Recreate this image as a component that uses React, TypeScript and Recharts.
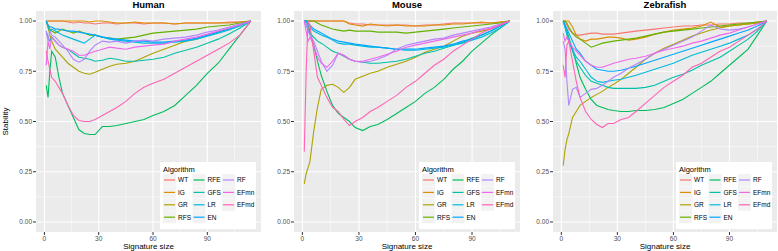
import React from 'react';
import { LineChart, Line, XAxis, YAxis, CartesianGrid } from 'recharts';

const algorithms = ['WT', 'IG', 'GR', 'RFS', 'RFE', 'GFS', 'LR', 'EN', 'RF', 'EFmn', 'EFmd'];
const colors = ['#F8766D', '#DB8E00', '#AEA200', '#64B200', '#00BD5C', '#00C1A7', '#00BADE', '#00A6FF', '#B385FF', '#EF67EB', '#FF63B6'];
const titles = ['Human', 'Mouse', 'Zebrafish'];
const xTicks = [0, 30, 60, 90];
const xMinor = [15, 45, 75, 105];
const yTicks = [0, 0.25, 0.5, 0.75, 1];
const yMinor = [0.125, 0.375, 0.625, 0.875];

// Human
const humanX = [1, 2, 3, 4, 6, 8, 10, 13, 16, 19, 22, 25, 28, 32, 36, 40, 45, 50, 55, 60, 66, 72, 78, 84, 90, 96, 102, 108, 114];
const humanWT = [1, 1, 1, 1, 1, 1, 1, 0.995, 0.99, 0.995, 0.99, 0.99, 0.985, 0.99, 0.99, 0.985, 0.99, 0.99, 0.985, 0.99, 0.99, 0.985, 0.99, 0.99, 0.99, 0.99, 0.995, 0.995, 1];
const humanIG = [1, 1, 1, 1, 1, 1, 1, 1, 1, 1, 1, 0.995, 1, 1, 0.995, 0.99, 0.99, 0.995, 0.99, 0.99, 0.99, 0.985, 0.99, 0.99, 0.99, 0.99, 0.99, 0.995, 1];
const humanGR = [1, 0.97, 0.93, 0.9, 0.86, 0.84, 0.82, 0.79, 0.77, 0.75, 0.74, 0.735, 0.745, 0.76, 0.775, 0.785, 0.79, 0.8, 0.82, 0.84, 0.86, 0.88, 0.9, 0.91, 0.93, 0.945, 0.96, 0.98, 1];
const humanRFS = [1, 0.98, 0.96, 0.95, 0.94, 0.95, 0.96, 0.95, 0.94, 0.95, 0.94, 0.93, 0.93, 0.92, 0.915, 0.91, 0.915, 0.92, 0.93, 0.94, 0.945, 0.95, 0.955, 0.96, 0.97, 0.975, 0.98, 0.99, 1];
const humanRFE = [0.68, 0.62, 0.75, 0.85, 0.82, 0.72, 0.64, 0.58, 0.52, 0.46, 0.44, 0.435, 0.435, 0.475, 0.475, 0.48, 0.49, 0.5, 0.51, 0.53, 0.55, 0.58, 0.63, 0.68, 0.74, 0.79, 0.86, 0.93, 1];
const humanGFS = [0.95, 0.92, 0.9, 0.92, 0.9, 0.88, 0.87, 0.86, 0.84, 0.82, 0.815, 0.81, 0.8, 0.805, 0.815, 0.81, 0.8, 0.8, 0.805, 0.81, 0.82, 0.84, 0.855, 0.87, 0.89, 0.91, 0.935, 0.965, 1];
const humanLR = [1, 0.97, 0.95, 0.96, 0.95, 0.94, 0.93, 0.92, 0.91, 0.9, 0.89, 0.91, 0.93, 0.92, 0.91, 0.905, 0.9, 0.895, 0.89, 0.89, 0.89, 0.895, 0.9, 0.91, 0.925, 0.94, 0.955, 0.975, 1];
const humanEN = [1, 0.98, 0.97, 0.97, 0.96, 0.96, 0.955, 0.95, 0.95, 0.945, 0.94, 0.935, 0.93, 0.92, 0.915, 0.91, 0.905, 0.9, 0.9, 0.895, 0.895, 0.9, 0.905, 0.915, 0.93, 0.945, 0.96, 0.98, 1];
const humanRF = [0.95, 0.9, 0.95, 0.93, 0.92, 0.9, 0.88, 0.85, 0.81, 0.795, 0.81, 0.85, 0.88, 0.9, 0.895, 0.9, 0.89, 0.9, 0.905, 0.9, 0.91, 0.915, 0.92, 0.93, 0.945, 0.955, 0.97, 0.985, 1];
const humanEFmn = [0.78, 0.9, 0.86, 0.92, 0.9, 0.88, 0.87, 0.86, 0.85, 0.83, 0.83, 0.84, 0.85, 0.86, 0.87, 0.865, 0.86, 0.87, 0.875, 0.88, 0.885, 0.9, 0.91, 0.92, 0.935, 0.95, 0.965, 0.98, 1];
const humanEFmd = [0.85, 0.8, 0.76, 0.72, 0.7, 0.67, 0.64, 0.58, 0.53, 0.505, 0.5, 0.5, 0.51, 0.53, 0.55, 0.57, 0.6, 0.64, 0.67, 0.69, 0.71, 0.74, 0.77, 0.8, 0.83, 0.86, 0.89, 0.93, 1];

// Mouse
const mouseX = [1, 2, 3, 4, 6, 8, 10, 13, 16, 19, 22, 25, 28, 32, 36, 40, 45, 50, 55, 60, 65, 70, 75, 80, 85, 90, 95, 100, 105, 110];
const mouseWT = [1, 1, 1, 1, 1, 1, 1, 1, 1, 1, 1, 0.99, 0.985, 0.985, 0.98, 0.98, 0.98, 0.98, 0.98, 0.975, 0.98, 0.98, 0.985, 0.99, 0.99, 0.99, 0.99, 0.99, 0.995, 1];
const mouseIG = [1, 1, 1, 1, 1, 1, 1, 1, 1, 1, 1, 0.985, 0.98, 0.975, 0.985, 0.98, 0.975, 0.98, 0.975, 0.975, 0.975, 0.98, 0.98, 0.985, 0.985, 0.99, 0.995, 0.99, 0.995, 1];
const mouseGR = [0.19, 0.24, 0.27, 0.3, 0.45, 0.57, 0.66, 0.68, 0.685, 0.67, 0.645, 0.67, 0.71, 0.725, 0.74, 0.75, 0.77, 0.785, 0.8, 0.82, 0.845, 0.86, 0.875, 0.9, 0.925, 0.94, 0.95, 0.96, 0.98, 1];
const mouseRFS = [1, 1, 1, 1, 1, 0.99, 0.98, 0.97, 0.96, 0.955, 0.95, 0.955, 0.95, 0.95, 0.95, 0.945, 0.945, 0.945, 0.94, 0.945, 0.95, 0.955, 0.96, 0.965, 0.97, 0.975, 0.98, 0.985, 0.99, 1];
const mouseRFE = [1, 1, 0.98, 0.95, 0.88, 0.8, 0.73, 0.65, 0.58, 0.54, 0.52, 0.5, 0.47, 0.455, 0.475, 0.485, 0.51, 0.54, 0.57, 0.6, 0.64, 0.67, 0.71, 0.76, 0.8, 0.85, 0.89, 0.93, 0.965, 1];
const mouseGFS = [1, 0.98, 0.96, 0.94, 0.92, 0.9, 0.89, 0.87, 0.85, 0.84, 0.825, 0.81, 0.8, 0.795, 0.79, 0.79, 0.795, 0.8, 0.81, 0.825, 0.84, 0.85, 0.865, 0.88, 0.895, 0.915, 0.93, 0.95, 0.975, 1];
const mouseLR = [1, 1, 0.98, 0.97, 0.95, 0.94, 0.93, 0.92, 0.905, 0.89, 0.885, 0.885, 0.88, 0.875, 0.87, 0.87, 0.865, 0.86, 0.855, 0.855, 0.86, 0.865, 0.87, 0.88, 0.89, 0.905, 0.92, 0.94, 0.965, 1];
const mouseEN = [1, 1, 0.99, 0.98, 0.96, 0.95, 0.94, 0.925, 0.91, 0.9, 0.895, 0.89, 0.885, 0.88, 0.875, 0.87, 0.865, 0.86, 0.86, 0.86, 0.865, 0.87, 0.875, 0.885, 0.9, 0.91, 0.93, 0.95, 0.975, 1];
const mouseRF = [1, 0.98, 0.95, 0.93, 0.9, 0.85, 0.8, 0.75, 0.78, 0.84, 0.83, 0.81, 0.8, 0.795, 0.8, 0.81, 0.83, 0.86, 0.88, 0.89, 0.9, 0.91, 0.915, 0.93, 0.94, 0.95, 0.96, 0.97, 0.985, 1];
const mouseEFmn = [1, 0.95, 0.9, 0.92, 0.88, 0.82, 0.79, 0.77, 0.8, 0.84, 0.83, 0.81, 0.8, 0.8, 0.81, 0.82, 0.835, 0.85, 0.87, 0.88, 0.89, 0.9, 0.91, 0.92, 0.93, 0.94, 0.955, 0.965, 0.98, 1];
const mouseEFmd = [0.35, 0.75, 1, 0.98, 0.85, 0.72, 0.68, 0.62, 0.57, 0.55, 0.51, 0.48, 0.5, 0.52, 0.55, 0.57, 0.6, 0.63, 0.67, 0.7, 0.74, 0.78, 0.81, 0.85, 0.88, 0.91, 0.94, 0.96, 0.98, 1];

// Zebrafish
const zebraX = [1, 2, 3, 4, 6, 8, 10, 13, 16, 19, 22, 25, 28, 32, 36, 40, 45, 50, 55, 60, 65, 70, 75, 80, 85, 90, 95, 100, 105, 110];
const zebraWT = [1, 1, 0.98, 0.96, 0.94, 0.93, 0.93, 0.935, 0.94, 0.94, 0.935, 0.935, 0.935, 0.94, 0.945, 0.95, 0.955, 0.96, 0.965, 0.97, 0.975, 0.975, 0.98, 0.98, 0.985, 0.985, 0.99, 0.99, 0.995, 1];
const zebraIG = [1, 1, 1, 1, 0.97, 0.93, 0.91, 0.9, 0.91, 0.91, 0.915, 0.92, 0.92, 0.915, 0.905, 0.91, 0.92, 0.935, 0.945, 0.955, 0.96, 0.965, 0.975, 0.995, 0.97, 0.975, 0.98, 0.985, 0.99, 1];
const zebraGR = [0.28, 0.36, 0.41, 0.44, 0.52, 0.55, 0.58, 0.6, 0.62, 0.635, 0.65, 0.67, 0.685, 0.71, 0.74, 0.77, 0.81, 0.84, 0.865, 0.885, 0.905, 0.925, 0.94, 0.955, 0.965, 0.975, 0.98, 0.985, 0.99, 1];
const zebraRFS = [1, 1, 0.99, 0.97, 0.94, 0.92, 0.91, 0.89, 0.87, 0.88, 0.89, 0.895, 0.9, 0.905, 0.91, 0.915, 0.925, 0.935, 0.945, 0.95, 0.955, 0.96, 0.965, 0.97, 0.975, 0.98, 0.985, 0.99, 0.995, 1];
const zebraRFE = [1, 0.98, 0.95, 0.92, 0.86, 0.79, 0.72, 0.66, 0.61, 0.58, 0.57, 0.56, 0.555, 0.55, 0.55, 0.555, 0.555, 0.56, 0.57, 0.59, 0.61, 0.64, 0.67, 0.7, 0.74, 0.78, 0.82, 0.86, 0.93, 1];
const zebraGFS = [1, 0.97, 0.93, 0.9, 0.85, 0.8, 0.77, 0.73, 0.7, 0.69, 0.68, 0.67, 0.665, 0.665, 0.665, 0.665, 0.67, 0.68, 0.7, 0.72, 0.735, 0.755, 0.78, 0.8, 0.82, 0.85, 0.88, 0.91, 0.95, 1];
const zebraLR = [1, 0.97, 0.94, 0.9, 0.86, 0.82, 0.8, 0.76, 0.72, 0.7, 0.695, 0.7, 0.705, 0.71, 0.72, 0.73, 0.745, 0.76, 0.775, 0.79, 0.81, 0.83, 0.845, 0.86, 0.875, 0.89, 0.91, 0.93, 0.96, 1];
const zebraEN = [1, 0.98, 0.96, 0.94, 0.9, 0.86, 0.84, 0.8, 0.78, 0.76, 0.755, 0.75, 0.75, 0.755, 0.765, 0.775, 0.79, 0.805, 0.82, 0.835, 0.85, 0.865, 0.88, 0.895, 0.91, 0.925, 0.94, 0.955, 0.975, 1];
const zebraRF = [0.9, 0.86, 0.7, 0.58, 0.66, 0.67, 0.62, 0.64, 0.66, 0.665, 0.68, 0.7, 0.72, 0.74, 0.765, 0.785, 0.81, 0.84, 0.86, 0.88, 0.9, 0.92, 0.95, 0.98, 0.96, 0.955, 0.96, 0.97, 0.985, 1];
const zebraEFmn = [0.94, 0.9, 0.92, 0.9, 0.87, 0.85, 0.83, 0.8, 0.78, 0.77, 0.77, 0.78, 0.79, 0.8, 0.81, 0.815, 0.825, 0.84, 0.855, 0.865, 0.875, 0.89, 0.9, 0.915, 0.93, 0.94, 0.955, 0.97, 0.985, 1];
const zebraEFmd = [0.78, 0.72, 0.88, 0.9, 0.8, 0.7, 0.62, 0.55, 0.51, 0.485, 0.47, 0.49, 0.49, 0.51, 0.52, 0.55, 0.59, 0.63, 0.67, 0.7, 0.73, 0.77, 0.79, 0.82, 0.85, 0.87, 0.9, 0.93, 0.96, 1];

const humanValues = [humanWT, humanIG, humanGR, humanRFS, humanRFE, humanGFS, humanLR, humanEN, humanRF, humanEFmn, humanEFmd];
const mouseValues = [mouseWT, mouseIG, mouseGR, mouseRFS, mouseRFE, mouseGFS, mouseLR, mouseEN, mouseRF, mouseEFmn, mouseEFmd];
const zebraValues = [zebraWT, zebraIG, zebraGR, zebraRFS, zebraRFE, zebraGFS, zebraLR, zebraEN, zebraRF, zebraEFmn, zebraEFmd];

const FONT = '"Liberation Sans", Arial, Helvetica, sans-serif';

function buildRows(xs: number[], values: number[][]) {
  return xs.map((x, i) => {
    const row: Record<string, number> = { x };
    algorithms.forEach((a, k) => {
      row[a] = values[k][i];
    });
    return row;
  });
}

const panels = [
  { xs: humanX, values: humanValues, domain: [-4.65, 119.65], left: 0, yw: 36, plotLeft: 36, plotRight: 261 },
  { xs: mouseX, values: mouseValues, domain: [-4.45, 115.45], left: 262, yw: 32, plotLeft: 294, plotRight: 520 },
  { xs: zebraX, values: zebraValues, domain: [-4.45, 115.45], left: 521, yw: 32, plotLeft: 553, plotRight: 777 },
];

const TOP = 11;
const XH = 19;
const H = 251;

function Panel({ p }: { p: typeof panels[number] }) {
  const rows = buildRows(p.xs, p.values);
  const width = p.plotRight - p.left + 1;
  return (
    <div style={{ position: 'absolute', left: p.left, top: 0 }}>
      <LineChart width={width} height={H} data={rows} margin={{ top: TOP, right: 1, bottom: 0, left: 0 }}>
        <CartesianGrid fill="#EBEBEB" fillOpacity={1} stroke="#FFFFFF" strokeWidth={0.5} verticalValues={xMinor} horizontalValues={yMinor} />
        <CartesianGrid stroke="#FFFFFF" strokeWidth={1.1} verticalValues={xTicks} horizontalValues={yTicks} />
        <XAxis
          type="number"
          dataKey="x"
          domain={p.domain}
          ticks={xTicks}
          allowDataOverflow
          height={XH}
          axisLine={false}
          tickLine={{ stroke: '#333333' }}
          tickSize={3}
          tickMargin={1}
          tick={{ fontSize: 6.5, fill: '#4D4D4D', fontFamily: FONT }}
          interval={0}
        />
        <YAxis
          type="number"
          domain={[-0.05, 1.05]}
          ticks={yTicks}
          allowDataOverflow
          width={p.yw}
          axisLine={false}
          tickLine={{ stroke: '#333333' }}
          tickSize={3}
          tickMargin={1}
          tickFormatter={(v: number) => v.toFixed(2)}
          tick={{ fontSize: 6.5, fill: '#4D4D4D', fontFamily: FONT }}
          interval={0}
        />
        {algorithms.map((a, k) => (
          <Line
            key={a}
            type="linear"
            dataKey={a}
            stroke={colors[k]}
            strokeWidth={1.1}
            dot={false}
            activeDot={false}
            isAnimationActive={false}
          />
        ))}
      </LineChart>
    </div>
  );
}

const legendCols = [[0, 1, 2, 3], [4, 5, 6, 7], [8, 9, 10]];

function Overlay() {
  return (
    <svg width={778} height={251} style={{ position: 'absolute', left: 0, top: 0, pointerEvents: 'none' }}>
      {panels.map((p, i) => {
        const cx = (p.plotLeft + p.plotRight) / 2;
        const lx = p.plotRight - 101;
        const ly = 162;
        return (
          <g key={i}>
            <text x={cx} y={8} textAnchor="middle" fontFamily={FONT} fontSize={9.5} fontWeight="bold" fill="#000">{titles[i]}</text>
            <text x={cx} y={249} textAnchor="middle" fontFamily={FONT} fontSize={8} fill="#000">Signature size</text>
            <g transform={`translate(${lx},${ly})`}>
              <rect x={0} y={0} width={96} height={67} fill="#FFFFFF" />
              <text x={3} y={9.5} fontFamily={FONT} fontSize={7.5} fill="#000">Algorithm</text>
              {legendCols.map((col, c) =>
                col.map((k, r) => {
                  const kx = 3 + c * 29.5;
                  const ky = 18 + r * 12.4;
                  return (
                    <g key={k}>
                      <rect x={kx} y={ky - 6} width={13} height={12} fill="#F2F2F2" />
                      <line x1={kx + 1} x2={kx + 12} y1={ky} y2={ky} stroke={colors[k]} strokeWidth={1.2} />
                      <text x={kx + 15} y={ky + 2.4} fontFamily={FONT} fontSize={6.5} fill="#000">{algorithms[k]}</text>
                    </g>
                  );
                })
              )}
            </g>
          </g>
        );
      })}
      <text transform="translate(8,121.5) rotate(-90)" textAnchor="middle" fontFamily={FONT} fontSize={8} fill="#000">Stability</text>
    </svg>
  );
}

export default function App() {
  return (
    <div style={{ position: 'absolute', left: 0, top: 0, width: 778, height: 251, background: '#FFFFFF', overflow: 'hidden' }}>
      {panels.map((p, i) => (
        <Panel key={i} p={p} />
      ))}
      <Overlay />
    </div>
  );
}
